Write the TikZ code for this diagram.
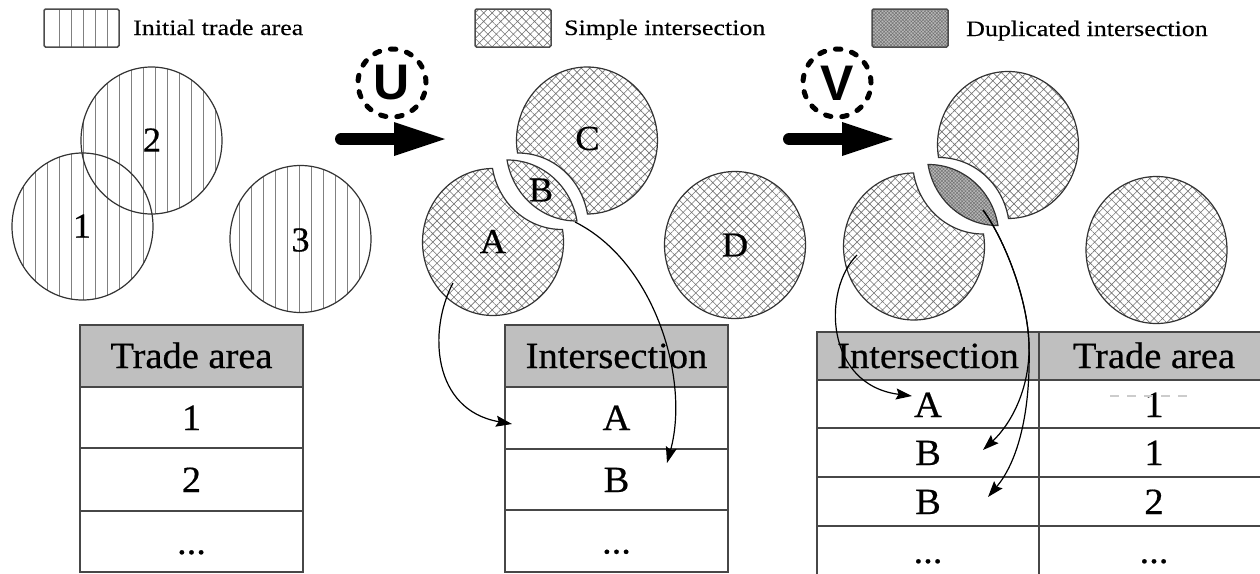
\documentclass[tikz,border=0pt]{standalone}
\usepackage{fontspec}
\setmainfont{Liberation Serif}
\newfontfamily\tabfont[FakeStretch=1.04,FakeBold=0.5]{Liberation Serif}
\newfontfamily\legfont[FakeStretch=1.18,FakeBold=0.3]{Liberation Serif}
\newfontfamily\opfont{Liberation Sans}
\usetikzlibrary{patterns.meta,arrows.meta}

\tikzset{
  outl/.style={draw=black!80, line width=1.2pt},
  xhatch/.style={pattern={Hatch[angle=45,distance=6pt,line width=0.6pt]}, pattern color=black!55},
  dupl/.style={preaction={fill=black!28}, pattern={Hatch[angle=45,distance=2.4pt,line width=0.5pt]}, pattern color=black!55},
  stripe/.style={draw=black!50, line width=0.8pt},
  legbox/.style={draw=black!70, line width=1.5pt, rounded corners=1.5pt},
  tabline/.style={draw=black!72, line width=1.5pt},
  headfill/.style={fill=black!25},
  tabtxt/.style={font=\tabfont\fontsize{37}{40}\selectfont, anchor=base, inner sep=0pt},
  lbl/.style={font=\tabfont\fontsize{35}{38}\selectfont, inner sep=0pt},
  legtxt/.style={font=\legfont\fontsize{22}{24}\selectfont, anchor=base west, inner sep=0pt},
  conn/.style={draw=black, line width=1.2pt, -{Stealth[length=16pt,width=11pt,inset=2.5pt]}},
  opcirc/.style={circle, draw=black, line width=5pt, dash pattern=on 5.5pt off 11pt, line cap=round,
     minimum size=68pt, inner sep=0pt, font=\opfont\bfseries\fontsize{50}{50}\selectfont},
  shaft/.style={line width=12pt, line cap=round, draw=black},
}

\newcommand\pieceA[2]{\begin{scope}[shift={#1},yscale=1.0426]
  \draw[#2] (-9.80:70.5) arc[start angle=-9.80, end angle=269.62, radius=70.5]
     arc[start angle=170.20, end angle=89.62, radius=70.5] -- cycle;
\end{scope}}
\newcommand\pieceC[2]{\begin{scope}[shift={#1},yscale=1.0426]
  \draw[#2] (170.20:70.5) arc[start angle=170.20, end angle=449.62, radius=70.5]
     arc[start angle=-9.80, end angle=-90.38, radius=70.5] -- cycle;
\end{scope}}
\newcommand\pieceL[2]{\begin{scope}[shift={#1},yscale=1.0426]
  \draw[#2] (-90.38:70.5) arc[start angle=-90.38, end angle=-9.80, radius=70.5]
     arc[start angle=89.62, end angle=170.20, radius=70.5] -- cycle;
\end{scope}}

\begin{document}
\begin{tikzpicture}[x=1pt,y=-1pt]
\useasboundingbox (0,0) rectangle (1260,573);

% ---------- legend ----------
\foreach \x in {59.5,71.5,83.5,95.5,107.5} \draw[stripe] (\x,9) -- (\x,47);
\draw[legbox] (44,9) rectangle (119,47);
\node[legtxt] (lg1) at (133,35) {Initial trade area};
\draw[legbox, xhatch] (475,9) rectangle (551,47);
\node[legtxt] (lg2) at (564,35) {Simple intersection};
\draw[legbox, dupl] (872,9) rectangle (948,47);
\node[legtxt] (lg3) at (966,36) {Duplicated intersection};

% ---------- stage 1 ----------
\begin{scope}
  \clip (82.5,226.5) ellipse[x radius=70.5, y radius=73.5];
  \foreach \k in {0,...,13} \draw[stripe] ({11.5+12*\k},150) -- ({11.5+12*\k},305);
\end{scope}
\begin{scope}
  \clip (151.5,140.5) ellipse[x radius=70.5, y radius=73.5];
  \foreach \k in {5,...,18} \draw[stripe] ({11.5+12*\k},64) -- ({11.5+12*\k},218);
\end{scope}
\begin{scope}
  \clip (300.5,239) ellipse[x radius=70.5, y radius=73.5];
  \foreach \k in {18,...,30} \draw[stripe] ({11.5+12*\k},162) -- ({11.5+12*\k},316);
\end{scope}
\draw[outl] (82.5,226.5) ellipse[x radius=70.5, y radius=73.5];
\draw[outl] (151.5,140.5) ellipse[x radius=70.5, y radius=73.5];
\draw[outl] (300.5,239) ellipse[x radius=70.5, y radius=73.5];
\node[lbl] (l1) at (82,226) {1};
\node[lbl] (l2) at (152,140) {2};
\node[lbl] (l3) at (300.5,240) {3};

% ---------- operator U ----------
\node[opcirc] (opU) at (392,83) {U};
\draw[shaft] (341,139) -- (396,139);
\fill[black] (394,122) -- (445,139) -- (394,156) -- cycle;

% ---------- stage 2 ----------
\pieceA{(493,242)}{outl,xhatch}
\pieceC{(587,140.5)}{outl,xhatch}
\pieceL{(507.5,233.5)}{outl,xhatch}
\draw[outl,xhatch] (735,245) ellipse[x radius=70.5, y radius=73.5];
\node[lbl] (lA) at (493,241.5) {A};
\node[lbl] (lB) at (541,190) {B};
\node[lbl] (lC) at (587.5,138.5) {C};
\node[lbl] (lD) at (735,245) {D};

% ---------- operator V ----------
\node[opcirc] (opV) at (837,83) {V};
\draw[shaft] (789,139) -- (844,139);
\fill[black] (842,122) -- (893,139) -- (842,156) -- cycle;

% ---------- stage 3 ----------
\pieceA{(914,246.5)}{outl,xhatch}
\pieceC{(1008,145)}{outl,xhatch}
\pieceL{(928.5,238)}{outl,dupl}
\draw[outl,xhatch] (1156.5,250) ellipse[x radius=70.5, y radius=73.5];

% ---------- table 1 ----------
\fill[headfill] (80,325) rectangle (303,387);
\foreach \y in {387,448,511} \draw[tabline] (80,\y) -- (303,\y);
\draw[tabline] (80,325) rectangle (303,572);
\node[tabtxt] (t1h) at (191.5,368) {Trade area};
\node[tabtxt] (t1a) at (191.5,430) {1};
\node[tabtxt] (t1b) at (191.5,492) {2};
\node[tabtxt] (t1c) at (191.5,554) {...};

% ---------- table 2 ----------
\fill[headfill] (505,325) rectangle (728,387);
\foreach \y in {387,449,510} \draw[tabline] (505,\y) -- (728,\y);
\draw[tabline] (505,325) rectangle (728,572);
\node[tabtxt] (t2h) at (616.5,368) {Intersection};
\node[tabtxt] (t2a) at (616.5,430) {A};
\node[tabtxt] (t2b) at (616.5,492) {B};
\node[tabtxt] (t2c) at (616.5,553.5) {...};

% ---------- table 3 ----------
\fill[headfill] (817,332) rectangle (1272,380);
\foreach \y in {380,428,477,526} \draw[tabline] (817,\y) -- (1272,\y);
\draw[tabline] (817,600) -- (817,332) -- (1272,332);
\draw[tabline] (1039,332) -- (1039,600);
\node[tabtxt] (t3h1) at (928,368) {Intersection};
\node[tabtxt] (t3h2) at (1154,368) {Trade area};
\node[tabtxt] (t3a1) at (928,417) {A};
\node[tabtxt] (t3a2) at (1154,417) {1};
\node[tabtxt] (t3b1) at (928,465) {B};
\node[tabtxt] (t3b2) at (1154,465) {1};
\node[tabtxt] (t3c1) at (928,514) {B};
\node[tabtxt] (t3c2) at (1154,514) {2};
\node[tabtxt] (t3d1) at (928,563) {...};
\node[tabtxt] (t3d2) at (1154,563) {...};
\draw[black!20, line width=1.2pt, dash pattern=on 9pt off 8pt] (1110,396) -- (1193,396);

% ---------- connectors ----------
\coordinate (sA) at (453,283);  \coordinate (tA) at (512,424);
\draw[conn] (sA) .. controls (428,330) and (432,410) .. (tA);
\coordinate (sB) at (575,222);  \coordinate (tB) at (667,463);
\draw[conn] (sB) .. controls (655,262) and (690,380) .. (tB);
\coordinate (sA2) at (857,255); \coordinate (tA2) at (912,396);
\draw[conn] (sA2) .. controls (822,290) and (825,385) .. (tA2);
\coordinate (sB2) at (983,210); \coordinate (mB2) at (1029,345);
\coordinate (tB2a) at (983,450); \coordinate (tB2b) at (988,497);
\draw[conn] (sB2) .. controls (1005,240) and (1028,300) .. (mB2) .. controls (1030,390) and (1010,425) .. (tB2a);
\draw[conn] (sB2) .. controls (1005,240) and (1028,300) .. (mB2) .. controls (1031,420) and (1015,465) .. (tB2b);
\end{tikzpicture}
\end{document}
